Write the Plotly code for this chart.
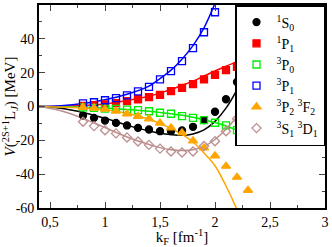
import plotly.graph_objects as go

# ---- data points (symbols) ----
kf_pts = [0.8, 0.9, 1.0, 1.1, 1.2, 1.3, 1.4, 1.5, 1.6, 1.7, 1.8, 1.9, 2.0, 2.1, 2.2, 2.3]
s1_0_pts = [-5.3, -6.7, -8.3, -9.7, -11.2, -12.6, -13.6, -14.6, -14.6, -14.2, -12.0, -8.0, -3.1, 4.3, 14.5, 27.6]
p1_1_pts = [0.4, 0.8, 1.3, 2.0, 3.2, 4.3, 5.5, 6.9, 9.1, 11.0, 13.2, 16.0, 18.7, 21.5, 23.4, 24.5]
p3_0_pts = [-0.5, -0.8, -1.2, -1.4, -1.8, -2.2, -2.8, -3.7, -4.3, -5.7, -6.7, -8.1, -9.6, -11.2, -14.0, -16.7]
kf_p31 = [0.8, 0.9, 1.0, 1.1, 1.2, 1.3, 1.4, 1.5, 1.6, 1.7, 1.8, 1.9, 2.0]
p3_1_pts = [1.8, 2.5, 3.7, 4.9, 6.6, 8.9, 11.6, 16.0, 20.9, 26.8, 34.5, 43.9, 55.7]
p3_2_pts = [-0.5, -1.0, -1.6, -2.7, -4.3, -5.8, -7.3, -9.8, -12.6, -15.6, -20.3, -24.5, -29.1, -35.3, -41.8, -49.5]
s3_1_pts = [-9.0, -11.6, -14.0, -15.9, -18.3, -20.7, -22.7, -24.9, -26.6, -27.2, -26.6, -23.4, -20.5, -14.6, -7.2, 3.5]

# ---- fitted curves ----
kf_line = [0.4, 0.6, 0.8, 1.0, 1.2, 1.4, 1.5, 1.6, 1.7, 1.8, 1.9, 2.0, 2.1, 2.2, 2.3, 2.4]
s1_0_line = [0, -1.0, -3.5, -7.0, -11.0, -14.5, -15.8, -16.6, -17.0, -16.2, -13.8, -8.8, -1.0, 10.0, 24.0, 39.0]
p1_1_line = [0, 0.2, 0.6, 1.5, 3.5, 6.0, 8.0, 10.0, 12.5, 15.0, 18.0, 21.0, 23.8, 26.5, 29.0, 31.0]
p3_0_line = [0, -0.2, -0.5, -1.0, -1.7, -2.8, -3.5, -4.3, -5.2, -6.4, -7.8, -9.5, -11.5, -14.0, -17.2, -21.5]
p3_1_line = [0, 0.5, 1.8, 4.0, 7.2, 12.0, 16.5, 21.5, 28.0, 36.0, 46.5, 61.0, 78.0, 98.0, 120.0, 145.0]
p3_2_line = [0, -0.3, -0.8, -2.0, -4.0, -7.5, -10.0, -13.0, -16.5, -21.0, -27.5, -35.0, -47.0, -61.0, -78.0, -98.0]
s3_1_line = [0, -2.5, -7.0, -12.5, -18.0, -22.5, -24.3, -25.5, -26.0, -25.5, -23.5, -19.5, -13.5, -6.0, 1.0, 8.5]

names = ["<sup>1</sup>S<sub>0</sub>", "<sup>1</sup>P<sub>1</sub>", "<sup>3</sup>P<sub>0</sub>",
         "<sup>3</sup>P<sub>1</sub>", "<sup>3</sup>P<sub>2</sub> <sup>3</sup>F<sub>2</sub>",
         "<sup>3</sup>S<sub>1</sub> <sup>3</sup>D<sub>1</sub>"]

x_tickvals = [0.5, 1, 1.5, 2, 2.5, 3]
x_ticktext = ["0,5", "1", "1,5", "2", "2,5", "3"]
y_tickvals = [-60, -40, -20, 0, 20, 40, 60]
y_ticktext = ["-60", "-40", "-20", "0", "20", "40", "60"]

colors = ["black", "#ff0000", "#00ee00", "#0000ff", "#ffa500", "#bc8f8f"]
symbols = ["circle", "square", "square-open", "square-open", "triangle-up", "diamond-open"]

series = [
    (kf_pts, s1_0_pts, s1_0_line),
    (kf_pts, p1_1_pts, p1_1_line),
    (kf_pts, p3_0_pts, p3_0_line),
    (kf_p31, p3_1_pts, p3_1_line),
    (kf_pts, p3_2_pts, p3_2_line),
    (kf_pts, s3_1_pts, s3_1_line),
]

fig = go.Figure()
for (xp, yp, yl), nm, c, sym in zip(series, names, colors, symbols):
    fig.add_trace(go.Scatter(x=kf_line, y=yl, mode="lines", line=dict(color=c, width=1.5, shape="spline"),
                             showlegend=False, hoverinfo="skip"))
for (xp, yp, yl), nm, c, sym in zip(series, names, colors, symbols):
    fig.add_trace(go.Scatter(x=xp, y=yp, mode="markers", name=nm,
                             marker=dict(symbol=sym, color=c, size=7 if "triangle" not in sym else 8,
                                         line=dict(color=c, width=1.3))))

font_family = "Liberation Serif"
fig.update_layout(
    width=332, height=247,
    margin=dict(l=39, r=3, t=5, b=39),
    plot_bgcolor="white", paper_bgcolor="white",
    font=dict(family=font_family, size=14, color="black"),
    legend=dict(x=1, y=1, xanchor="right", yanchor="top", bordercolor="black", borderwidth=1.5,
                bgcolor="white", font=dict(family=font_family, size=14), itemwidth=30,
                tracegroupgap=0),
    xaxis=dict(range=[0.4, 3], tickmode="array", tickvals=x_tickvals, ticktext=x_ticktext,
               ticks="inside", ticklen=6, tickwidth=1.3, showline=True, linecolor="black", linewidth=1.8,
               mirror="ticks", showgrid=False, zeroline=False,
               minor=dict(ticks="inside", ticklen=3, tickwidth=1.3, dtick=0.25, tick0=0.5, showgrid=False),
               title=dict(text="k<sub>F</sub> [fm<sup>-1</sup>]", font=dict(size=15), standoff=4)),
    yaxis=dict(range=[-60, 60], tickmode="array", tickvals=y_tickvals, ticktext=y_ticktext,
               ticks="inside", ticklen=6, tickwidth=1.3, showline=True, linecolor="black", linewidth=1.8,
               mirror="ticks", showgrid=False, zeroline=False,
               minor=dict(ticks="inside", ticklen=3, tickwidth=1.3, dtick=10, tick0=0, showgrid=False),
               title=dict(text="<i>V</i>(<sup>2S+1</sup>L<sub><i>J</i></sub>) [MeV]", font=dict(size=15), standoff=2)),
)

fig.write_html("out.html", config={"displayModeBar": False},
               post_script="document.body.style.margin='0';document.body.style.overflow='hidden';")
